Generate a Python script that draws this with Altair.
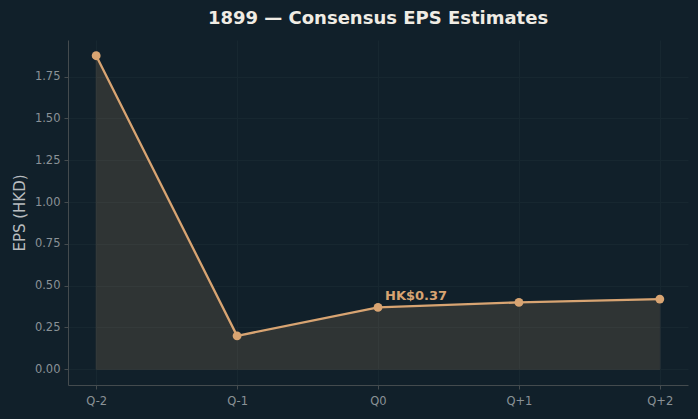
import altair as alt
import pandas as pd

quarters = ["Q-2", "Q-1", "Q0", "Q+1", "Q+2"]
eps = [1.875, 0.20, 0.37, 0.40, 0.42]
note_quarter = ["Q0"]
note_value = [0.37]
note_text = ["HK$0.37"]

BG = "#11202a"
ORANGE = "#d8a472"
GRID = "#172730"

df = pd.DataFrame({"quarter": quarters, "eps": eps})
notes = pd.DataFrame({"quarter": note_quarter, "eps": note_value, "label": note_text})

x = alt.X("quarter:N", sort=quarters, title=None,
          scale=alt.Scale(type="point", padding=0.2),
          axis=alt.Axis(labelAngle=0, labelColor="#8a9297", labelFontSize=11.5,
                        labelFont="DejaVu Sans", domainColor="#444b4e",
                        tickColor="#444b4e", tickSize=4, labelPadding=6,
                        grid=True, gridColor=GRID, gridWidth=1))
y = alt.Y("eps:Q", title="EPS (HKD)",
          scale=alt.Scale(domain=[-0.094, 1.969], nice=False, zero=False),
          axis=alt.Axis(values=[0, 0.25, 0.5, 0.75, 1.0, 1.25, 1.5, 1.75],
                        format=".2f", labelColor="#8a9297", labelFontSize=11.5,
                        labelFont="DejaVu Sans", domainColor="#444b4e",
                        tickColor="#444b4e", tickSize=4, labelPadding=4,
                        titleColor="#b8bcbf", titleFontSize=15,
                        titleFont="DejaVu Sans", titleFontWeight="normal",
                        titlePadding=7,
                        grid=True, gridColor=GRID, gridWidth=1))

base = alt.Chart(df)

area = base.mark_area(color=ORANGE, opacity=0.15, stroke=ORANGE, strokeWidth=1).encode(
    x=x, y=y, y2=alt.datum(0))
line = base.mark_line(color=ORANGE, strokeWidth=2.3).encode(x=x, y=y)
pts = base.mark_circle(color=ORANGE, size=78, opacity=1).encode(x=x, y=y)
txt = alt.Chart(notes).mark_text(
    align="left", baseline="alphabetic", dx=7, dy=-7, color=ORANGE,
    fontSize=13, fontWeight="bold", font="DejaVu Sans").encode(
    x=x, y=y, text="label:N")

chart = alt.layer(area, line, pts, txt).properties(
    width=620, height=345,
    background=BG,
    padding={"left": 68, "top": 40, "right": 10, "bottom": 34},
    autosize=alt.AutoSizeParams(type="none"),
    title=alt.TitleParams("1899 — Consensus EPS Estimates", color="#f0ece4",
                          fontSize=18, font="DejaVu Sans", fontWeight="bold",
                          anchor="middle", offset=12),
).configure_view(stroke=None).configure_axisY(titleFontSize=15)

chart.save("out.html", embed_options={"renderer": "svg", "actions": False})
